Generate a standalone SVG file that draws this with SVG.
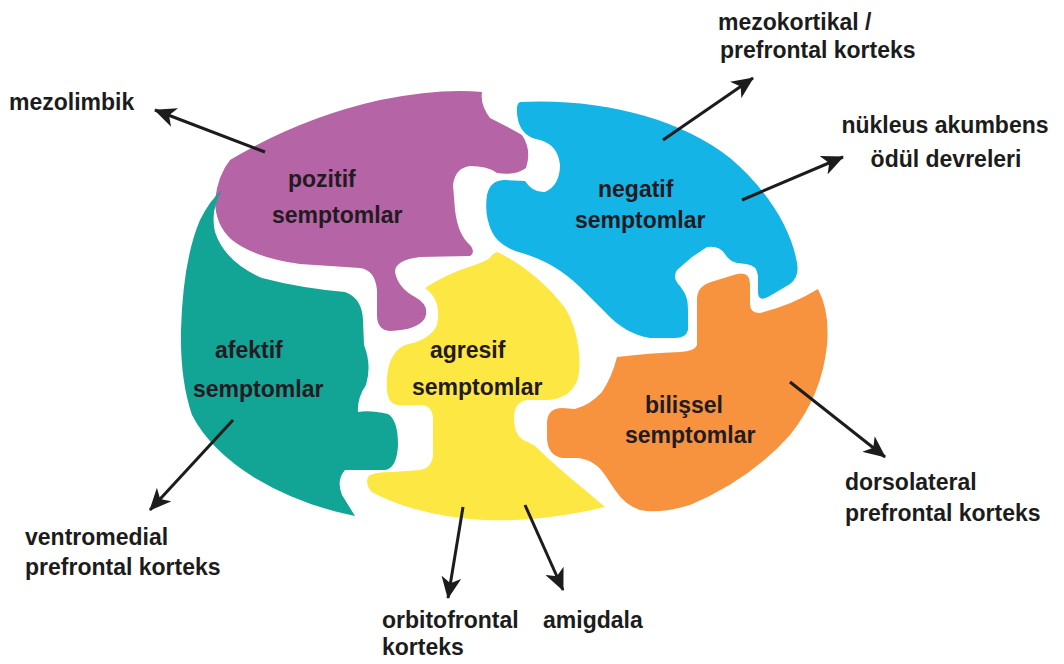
<svg xmlns="http://www.w3.org/2000/svg" width="1064" height="664" viewBox="0 0 1064 664">
<style>
text{font-family:"Liberation Sans",Arial,sans-serif;font-weight:bold;font-size:23px;fill:#1c1c1c}
.in{fill:#241a22}
.arr{stroke:#1c1c1c;stroke-width:3;fill:none;marker-end:url(#ah)}
</style>
<defs>
<marker id="ah" viewBox="0 0 22 20" markerWidth="22" markerHeight="20" refX="21" refY="10" orient="auto" markerUnits="userSpaceOnUse">
<path d="M0,0 L22,10 L0,20 L6,10 Z" fill="#1c1c1c"/>
</marker>
</defs>
<rect width="1064" height="664" fill="#fff"/>
<g id="pozitif">
<path fill="#b564a5" d="M230,160 Q300,118 380,100 Q440,88 482,92 Q480,105 490,118 Q510,128 522,135 Q532,150 526,168 Q515,176 497,173 Q488,166 470,166 Q455,168 453,185 L455,210 Q458,235 470,245 Q476,252 470,256 L420,257 Q395,260 395,272 Q398,288 415,297 Q430,305 425,318 Q418,330 390,331 Q377,330 377,315 L377,290 Q375,270 360,268 L300,264 Q255,258 232,240 Q215,225 215,200 Q218,175 230,160 Z"/>
<text class="in" x="288" y="187">pozitif</text>
<text class="in" x="272" y="223">semptomlar</text>
</g>
<g id="negatif">
<path fill="#14b4e6" d="M520,102 C600,98 680,118 730,158 C768,190 790,228 796,258 Q801,276 790,284 L768,297 Q758,302 758,292 L758,276 Q757,265 746,264 L737,263 Q729,261 725,254 Q719,245 707,247 L692,257 L677,270 Q672,278 680,286 L684,292 Q688,298 688,310 L688,330 Q686,338 675,338 L650,338 Q625,334 605,312 L580,287 Q555,263 525,254 Q500,248 492,232 Q484,215 487,195 Q490,180 505,180 L525,181 Q533,193 545,192 Q560,185 560,165 Q558,145 540,140 Q522,137 518,120 Q515,104 520,102 Z"/>
<text class="in" x="598" y="197">negatif</text>
<text class="in" x="575" y="228">semptomlar</text>
</g>
<g id="afektif">
<path fill="#12a495" d="M222,190 Q210,210 215,232 Q225,262 262,278 Q300,288 345,292 Q362,298 363,320 L364,345 Q372,365 366,385 Q357,398 358,412 Q370,410 388,414 Q398,420 398,445 Q397,468 385,470 L345,470 Q336,480 342,495 L355,516 Q300,505 255,478 Q210,450 192,415 Q180,380 181,330 Q183,260 200,220 Q210,200 222,190 Z"/>
<text class="in" x="215" y="358">afektif</text>
<text class="in" x="193" y="397">semptomlar</text>
</g>
<g id="agresif">
<path fill="#fde843" d="M497,252 C520,262 548,285 565,308 C578,328 582,360 578,378 Q572,398 548,400 L527,400 Q514,402 514,418 Q514,438 528,442 L535,446 Q560,470 585,490 L605,507 C560,518 510,523 470,519 C430,515 395,505 372,492 Q365,485 368,477 Q372,472 392,472 L420,470 Q432,468 433,455 L433,418 Q432,405 420,405 L398,405 Q388,404 387,390 C386,370 390,352 405,345 Q430,340 437,325 Q442,300 425,288 Q440,278 460,270 Q485,262 490,258 Q492,254 497,252 Z"/>
<text class="in" x="430" y="358">agresif</text>
<text class="in" x="412" y="395">semptomlar</text>
</g>
<g id="bilissel">
<path fill="#f7923f" d="M697,345 L697,300 Q697,286 711,282 L737,274 Q750,271 750,284 L750,304 Q750,313 760,313 Q792,305 818,289 Q830,312 827,345 Q822,395 790,435 Q750,480 690,505 Q660,514 640,510 Q625,505 615,490 L605,475 Q595,460 578,458 L562,458 Q547,455 547,437 L547,422 Q548,408 562,408 L575,409 Q590,405 602,392 Q612,377 617,357 Q650,353 680,352 Q695,351 697,345 Z"/>
<text class="in" x="645" y="413">bilişsel</text>
<text class="in" x="625" y="443">semptomlar</text>
</g>
<g id="connectors">
<line class="arr" x1="265" y1="152" x2="155" y2="110"/>
<line class="arr" x1="663" y1="140" x2="753" y2="78"/>
<line class="arr" x1="742" y1="200" x2="843" y2="157"/>
<line class="arr" x1="233" y1="420" x2="150" y2="510"/>
<line class="arr" x1="463" y1="507" x2="448" y2="598"/>
<line class="arr" x1="525" y1="505" x2="563" y2="590"/>
<line class="arr" x1="790" y1="382" x2="885" y2="457"/>
</g>
<g id="labels">
<text x="9" y="110">mezolimbik</text>
<text x="718" y="30">mezokortikal /</text>
<text x="720" y="58">prefrontal korteks</text>
<text x="945" y="133" text-anchor="middle">nükleus akumbens</text>
<text x="946" y="167" text-anchor="middle">ödül devreleri</text>
<text x="25" y="545">ventromedial</text>
<text x="25" y="575">prefrontal korteks</text>
<text x="382" y="628">orbitofrontal</text>
<text x="382" y="655">korteks</text>
<text x="543" y="628">amigdala</text>
<text x="845" y="490">dorsolateral</text>
<text x="845" y="521">prefrontal korteks</text>
</g>
</svg>
